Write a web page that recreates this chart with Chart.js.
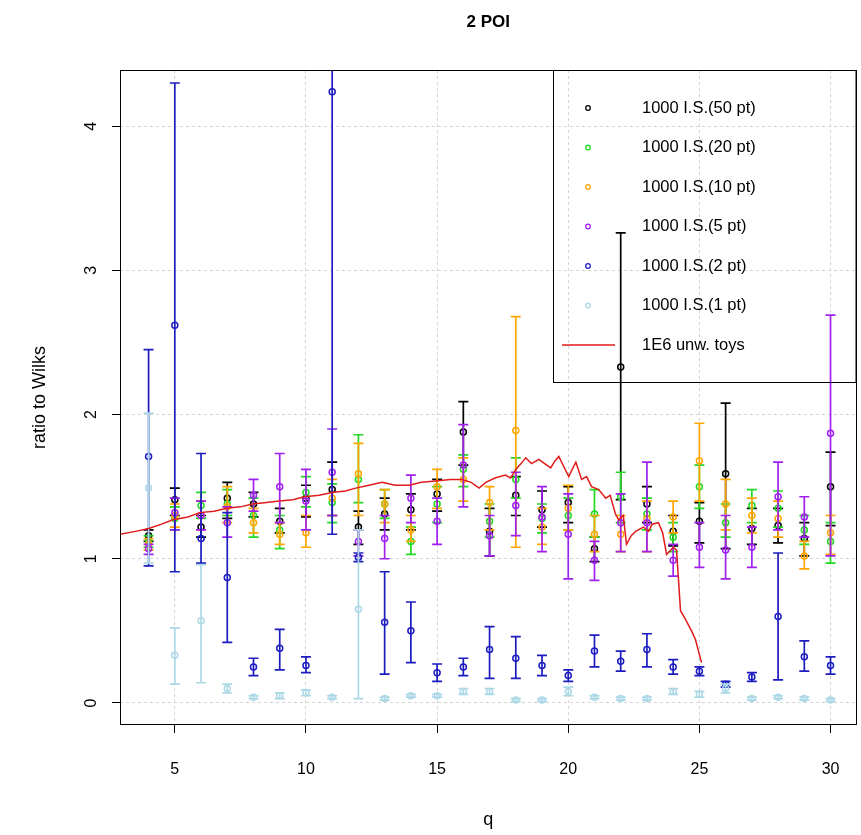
<!DOCTYPE html>
<html>
<head>
<meta charset="utf-8">
<title>2 POI</title>
<script src="https://cdn.jsdelivr.net/npm/chart.js@4.4.0/dist/chart.umd.min.js"></script>
<style>
  html, body { margin: 0; padding: 0; background: #fff; }
  #wrap { width: 861px; height: 835px; position: relative; }
</style>
</head>
<body>
<div id="wrap"><canvas id="poiChart"></canvas></div>
<script>
const FONT = "'Liberation Sans', Arial, sans-serif";

const qValues = [4,5,6,7,8,9,10,11,12,13,14,15,16,17,18,19,20,21,22,23,24,25,26,27,28,29,30];
const xTicks = [5, 10, 15, 20, 25, 30];
const yTicks = [0, 1, 2, 3, 4];

// 1000 I.S. (50 pt)
const is50 =   [1.16,1.41,1.22,1.42,1.38,1.26,1.42,1.48,1.22,1.31,1.34,1.45,1.88,1.19,1.44,1.34,1.39,1.07,2.33,1.38,1.19,1.26,1.59,1.21,1.23,1.14,1.50];
const is50Lo = [1.12,1.30,1.15,1.28,1.29,1.18,1.29,1.30,1.10,1.20,1.20,1.33,1.65,1.02,1.30,1.22,1.25,0.98,1.41,1.25,1.09,1.11,1.07,1.10,1.11,1.02,1.23];
const is50Hi = [1.20,1.49,1.30,1.53,1.46,1.35,1.51,1.67,1.33,1.42,1.45,1.55,2.09,1.35,1.57,1.47,1.50,1.15,3.26,1.50,1.30,1.39,2.08,1.35,1.35,1.25,1.74];

// 1000 I.S. (20 pt)
const is20 =   [1.12,1.28,1.37,1.38,1.30,1.20,1.46,1.39,1.55,1.38,1.12,1.38,1.62,1.26,1.55,1.28,1.30,1.31,1.43,1.31,1.15,1.50,1.25,1.37,1.35,1.20,1.12];
const is20Lo = [1.08,1.20,1.28,1.30,1.15,1.07,1.36,1.25,1.39,1.28,1.03,1.25,1.50,1.15,1.42,1.18,1.20,1.15,1.25,1.20,1.05,1.35,1.15,1.25,1.22,1.10,0.97];
const is20Hi = [1.16,1.36,1.46,1.48,1.42,1.30,1.57,1.52,1.86,1.48,1.22,1.50,1.72,1.38,1.70,1.38,1.42,1.48,1.60,1.42,1.25,1.65,1.38,1.48,1.47,1.30,1.25];

// 1000 I.S. (10 pt)
const is10 =   [1.10,1.30,1.30,1.36,1.25,1.17,1.18,1.42,1.59,1.38,1.20,1.50,1.55,1.39,1.89,1.22,1.35,1.17,1.17,1.28,1.29,1.68,1.38,1.30,1.28,1.02,1.18];
const is10Lo = [1.06,1.22,1.20,1.25,1.18,1.10,1.08,1.30,1.30,1.25,1.12,1.35,1.40,1.20,1.08,1.10,1.20,1.05,1.05,1.05,1.18,1.40,1.20,1.18,1.15,0.93,1.03];
const is10Hi = [1.14,1.38,1.40,1.50,1.35,1.25,1.30,1.55,1.80,1.48,1.30,1.62,1.70,1.50,2.68,1.35,1.51,1.30,1.30,1.40,1.40,1.94,1.55,1.42,1.40,1.12,1.30];

// 1000 I.S. (5 pt)
const is5 =   [1.07,1.32,1.30,1.25,1.44,1.50,1.40,1.60,1.12,1.14,1.42,1.26,1.65,1.16,1.37,1.29,1.17,0.99,1.25,1.25,0.99,1.08,1.06,1.08,1.43,1.29,1.87];
const is5Lo = [1.03,1.20,1.20,1.15,1.33,1.25,1.20,1.30,1.02,1.00,1.25,1.10,1.36,1.02,1.16,1.05,0.86,0.85,1.05,1.05,0.88,0.94,0.86,0.94,1.20,1.15,1.02];
const is5Hi = [1.10,1.42,1.40,1.36,1.55,1.73,1.62,1.90,1.20,1.30,1.58,1.42,1.93,1.30,1.60,1.50,1.45,1.12,1.45,1.67,1.10,1.25,1.30,1.22,1.67,1.43,2.69];

// 1000 I.S. (2 pt)
const is2 =   [1.71,2.62,1.14,0.87,0.25,0.38,0.26,4.24,1.01,0.56,0.50,0.21,0.25,0.37,0.31,0.26,0.19,0.36,0.29,0.37,0.25,0.22,0.13,0.18,0.60,0.32,0.26];
const is2Lo = [0.95,0.91,0.97,0.42,0.19,0.23,0.21,1.17,0.98,0.20,0.28,0.15,0.19,0.17,0.17,0.19,0.15,0.25,0.22,0.25,0.20,0.19,0.11,0.15,0.16,0.22,0.20];
const is2Hi = [2.45,4.30,1.73,1.32,0.31,0.51,0.32,5.50,1.04,0.91,0.70,0.27,0.31,0.53,0.46,0.33,0.23,0.47,0.36,0.48,0.30,0.25,0.15,0.21,1.04,0.43,0.32];

// 1000 I.S. (1 pt)
const is1 =   [1.49,0.33,0.57,0.10,0.04,0.05,0.07,0.04,0.65,0.03,0.05,0.05,0.08,0.08,0.02,0.02,0.08,0.04,0.03,0.03,0.08,0.06,0.10,0.03,0.04,0.03,0.02];
const is1Lo = [0.97,0.13,0.14,0.07,0.03,0.03,0.05,0.03,0.03,0.02,0.04,0.04,0.06,0.06,0.01,0.01,0.05,0.03,0.02,0.02,0.06,0.04,0.07,0.02,0.03,0.02,0.01];
const is1Hi = [2.01,0.52,0.96,0.13,0.05,0.07,0.09,0.05,1.20,0.04,0.06,0.06,0.10,0.10,0.03,0.03,0.11,0.05,0.04,0.04,0.10,0.08,0.13,0.04,0.05,0.04,0.03];

// 1E6 unweighted toys
const toyQ = [2.91,3.5,4.0,4.5,4.92,5.5,5.95,6.5,6.98,7.5,7.97,8.5,8.99,9.5,9.94,10.5,11.0,11.5,11.9,12.4,12.9,13.4,13.94,14.4,14.96,15.5,15.95,16.3,16.6,16.86,17.2,17.6,17.8,18.0,18.2,18.38,18.6,18.88,19.1,19.33,19.5,19.64,19.8,20.02,20.15,20.29,20.51,20.7,20.89,21.16,21.43,21.6,21.8,21.92,22.1,22.22,22.4,22.57,22.87,23.06,23.2,23.44,23.6,23.75,24.01,24.13,24.28,24.47,24.7,24.85,25.08];
const toyRatio = [1.17,1.19,1.21,1.24,1.27,1.29,1.32,1.33,1.35,1.36,1.38,1.39,1.40,1.41,1.43,1.44,1.46,1.47,1.49,1.51,1.53,1.51,1.51,1.53,1.54,1.55,1.55,1.53,1.49,1.53,1.56,1.58,1.56,1.62,1.66,1.70,1.66,1.69,1.66,1.63,1.68,1.71,1.65,1.57,1.62,1.67,1.55,1.57,1.50,1.48,1.42,1.44,1.31,1.27,1.30,1.10,1.16,1.19,1.22,1.19,1.24,1.25,1.18,1.03,1.08,1.06,0.64,0.58,0.50,0.44,0.28];

function makeSeries(label, color, vals, lo, hi, order) {
    return {
        label: label,
        data: qValues.map((q, i) => ({ x: q, y: vals[i] })),
        errLo: lo,
        errHi: hi,
        borderColor: color,
        backgroundColor: 'rgba(0,0,0,0)',
        pointRadius: 3,
        pointBorderWidth: 1.5,
        pointHoverRadius: 3,
        showLine: false,
        order: order
    };
}

// draws each series' error bars just before its points, so layering follows dataset order
const errorBarPlugin = {
    id: 'errorBars',
    beforeDatasetDraw(chart, args) {
        const ds = chart.data.datasets[args.index];
        if (!ds.errLo) return;
        const xs = chart.scales.x, ys = chart.scales.y, ctx = chart.ctx, a = chart.chartArea;
        ctx.save();
        ctx.beginPath();
        ctx.rect(a.left, a.top, a.right - a.left, a.bottom - a.top);
        ctx.clip();
        ctx.strokeStyle = ds.borderColor;
        ctx.lineWidth = 1.7;
        ds.data.forEach((p, i) => {
            const px = xs.getPixelForValue(p.x);
            const y1 = ys.getPixelForValue(ds.errLo[i]);
            const y2 = ys.getPixelForValue(ds.errHi[i]);
            ctx.beginPath();
            ctx.moveTo(px, y1); ctx.lineTo(px, y2);
            ctx.moveTo(px - 5, y1); ctx.lineTo(px + 5, y1);
            ctx.moveTo(px - 5, y2); ctx.lineTo(px + 5, y2);
            ctx.stroke();
        });
        ctx.restore();
    }
};

// plot frame + R-style legend box in the top right corner
const frameLegendPlugin = {
    id: 'frameLegend',
    afterDraw(chart) {
        const ctx = chart.ctx, a = chart.chartArea;
        ctx.save();
        ctx.strokeStyle = '#000';
        ctx.lineWidth = 1;
        ctx.strokeRect(Math.round(a.left) + 0.5, Math.round(a.top) + 0.5,
                       Math.round(a.right - a.left) - 1, Math.round(a.bottom - a.top) - 1);

        const boxLeft = 553, boxBottom = 382;
        ctx.strokeRect(boxLeft + 0.5, a.top + 0.5, a.right - boxLeft - 1, boxBottom - a.top);

        ctx.font = '16.5px ' + FONT;
        ctx.textBaseline = 'middle';
        chart.data.datasets.forEach((ds, i) => {
            const rowY = 108 + i * 39.5;
            ctx.strokeStyle = ds.borderColor;
            ctx.beginPath();
            if (ds.showLine) {
                ctx.lineWidth = 1.5;
                ctx.moveTo(562, rowY); ctx.lineTo(615, rowY);
            } else {
                ctx.lineWidth = 1.3;
                ctx.arc(588, rowY, 2.3, 0, Math.PI * 2);
            }
            ctx.stroke();
            ctx.fillStyle = '#000';
            ctx.fillText(ds.label, 642, rowY);
        });
        ctx.restore();
    }
};

function initChart() {
    const datasets = [
        makeSeries('1000 I.S.(50 pt)', '#000000', is50, is50Lo, is50Hi, 6),
        makeSeries('1000 I.S.(20 pt)', '#22d822', is20, is20Lo, is20Hi, 5),
        makeSeries('1000 I.S.(10 pt)', '#ffa500', is10, is10Lo, is10Hi, 4),
        makeSeries('1000 I.S.(5 pt)',  '#a020f0', is5,  is5Lo,  is5Hi,  3),
        makeSeries('1000 I.S.(2 pt)',  '#1c1cc0', is2,  is2Lo,  is2Hi,  2),
        makeSeries('1000 I.S.(1 pt)',  '#add8e6', is1,  is1Lo,  is1Hi,  1),
        {
            label: '1E6 unw. toys',
            data: toyQ.map((q, i) => ({ x: q, y: toyRatio[i] })),
            borderColor: '#e01b1b',
            borderWidth: 1.5,
            pointRadius: 0,
            showLine: true,
            tension: 0,
            order: 0
        }
    ];

    const gridCfg = {
        color: '#d3d3d3',
        lineWidth: 1,
        tickLength: 8,
        tickColor: '#000',
        tickWidth: 1
    };

    new Chart(document.getElementById('poiChart'), {
        type: 'scatter',
        data: { datasets: datasets },
        options: {
            responsive: true,
            maintainAspectRatio: false,
            animation: false,
            layout: { padding: { top: 0, right: 1, bottom: 0, left: 0 } },
            plugins: {
                legend: { display: false },
                tooltip: { enabled: false },
                title: {
                    display: true,
                    text: '2 POI',
                    fullSize: false,
                    color: '#000',
                    font: { family: FONT, size: 17, weight: 'bold' },
                    padding: { top: 12, bottom: 37.6 }
                }
            },
            scales: {
                x: {
                    type: 'linear',
                    min: 2.91,
                    max: 30.99,
                    afterBuildTicks: s => { s.ticks = xTicks.map(v => ({ value: v })); },
                    afterFit: s => { s.height = 110; s.paddingLeft = 0; s.paddingRight = 0; },
                    grid: gridCfg,
                    border: { display: false, dash: [3, 3] },
                    ticks: { color: '#000', padding: 27, maxRotation: 0, font: { family: FONT, size: 16 } },
                    title: { display: true, text: 'q', color: '#000', font: { family: FONT, size: 18 }, padding: { top: 0, bottom: 4 } }
                },
                y: {
                    type: 'linear',
                    min: -0.153,
                    max: 4.39,
                    afterBuildTicks: s => { s.ticks = yTicks.map(v => ({ value: v })); },
                    afterFit: s => { s.width = 120; s.paddingTop = 0; s.paddingBottom = 0; },
                    grid: gridCfg,
                    border: { display: false, dash: [3, 3] },
                    ticks: { color: '#000', padding: 16, minRotation: 90, maxRotation: 90, crossAlign: 'center', font: { family: FONT, size: 16 } },
                    title: { display: true, text: 'ratio to Wilks', color: '#000', font: { family: FONT, size: 18 }, padding: { top: 29, bottom: 0 } }
                }
            }
        },
        plugins: [errorBarPlugin, frameLegendPlugin]
    });
}

document.addEventListener('DOMContentLoaded', initChart);
</script>
</body>
</html>
